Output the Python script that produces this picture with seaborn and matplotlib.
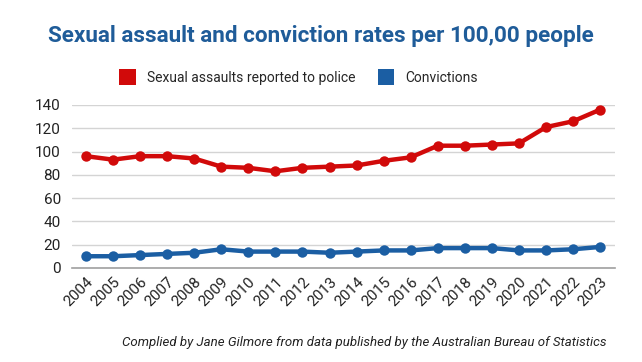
import numpy as np
import pandas as pd
import matplotlib.pyplot as plt
import seaborn as sns
from matplotlib.patches import Patch

# Données
years = [str(y) for y in range(2004, 2024)]
assaults = [96, 93, 96, 96, 94, 87, 86, 83, 86, 87, 88, 92, 95, 105, 105, 106, 107, 121, 126, 136]
convictions = [10, 10, 11, 12, 13, 16, 14, 14, 14, 13, 14, 15, 15, 17, 17, 17, 15, 15, 16, 18]
series_names = ["Sexual assaults reported to police", "Convictions"]
colors = ["#d10a0a", "#1b5ea3"]

df = pd.DataFrame({
    "year": years * 2,
    "rate": assaults + convictions,
    "series": [series_names[0]] * len(years) + [series_names[1]] * len(years),
})

sns.set_style("white")
plt.rcParams['font.family'] = ['Roboto', 'DejaVu Sans']

fig = plt.figure(figsize=(6.42, 3.62), dpi=100)
ax = fig.add_axes([0.112, 0.26, 0.846, 0.45])

sns.lineplot(data=df, x="year", y="rate", hue="series", palette=colors,
             marker="o", markersize=7.5, markeredgewidth=0, linewidth=3.2,
             sort=False, legend=False, ax=ax, clip_on=False)

ax.set_ylim(0, 140)
ax.set_yticks(range(0, 141, 20))
ax.set_xlim(-0.52, len(years) - 1 + 0.55)
ax.grid(axis="y", color="#d4d4d4", linewidth=1)
ax.set_axisbelow(True)
for s in ["top", "right", "left"]:
    ax.spines[s].set_visible(False)
ax.spines["bottom"].set_color("#a0a0a0")
ax.spines["bottom"].set_linewidth(1.2)
ax.tick_params(axis="both", length=0, labelsize=11, colors="#222222")
ax.tick_params(axis="y", pad=8)
ax.tick_params(axis="x", pad=5)
plt.setp(ax.get_xticklabels(), rotation=45, ha="right", rotation_mode="anchor")
ax.set_xlabel("")
ax.set_ylabel("")

fig.text(0.5, 0.90, "Sexual assault and conviction rates per 100,00 people",
         ha="center", va="center", fontsize=16.2, fontweight="bold", color="#1f5c99")

handles = [Patch(facecolor=c, edgecolor="none") for c in colors]
fig.legend(handles, series_names, loc="center", bbox_to_anchor=(0.465, 0.787),
           ncol=2, frameon=False, fontsize=10, handlelength=1.2, handleheight=1.4,
           columnspacing=1.6, handletextpad=0.8)

fig.text(0.945, 0.055, "Complied by Jane Gilmore from data published by the Australian Bureau of Statistics",
         ha="right", va="center", fontsize=9.5, style="italic", color="#222222")

fig.savefig("out.png", dpi=100, facecolor="white")
